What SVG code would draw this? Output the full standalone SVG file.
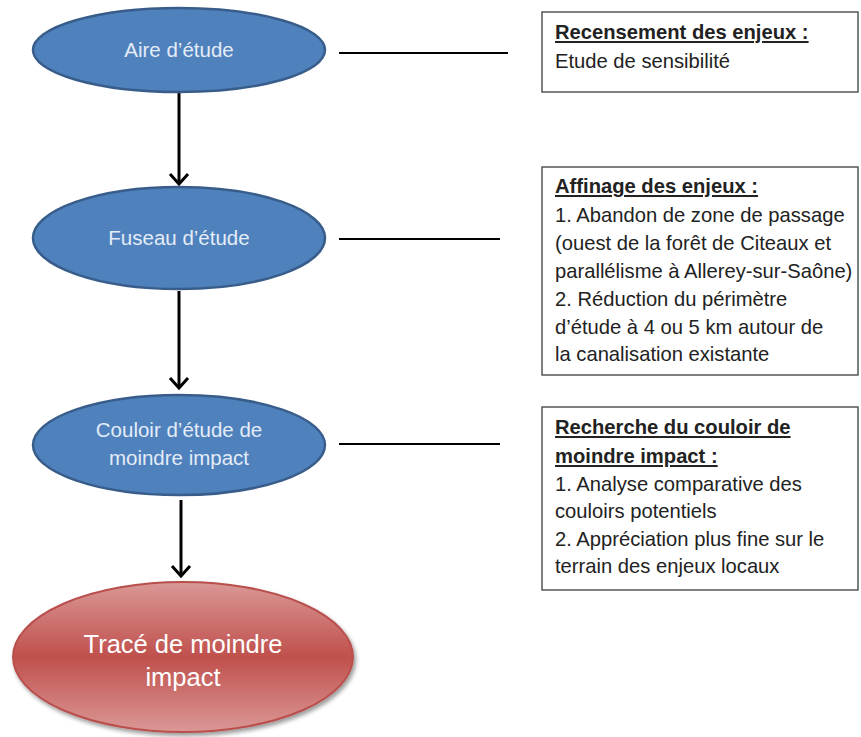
<svg xmlns="http://www.w3.org/2000/svg" width="861" height="737" viewBox="0 0 861 737">
<style>
.blue{fill:#4F81BD;stroke:#385D8A;stroke-width:2.5}
.etxt{font-family:"Liberation Sans",Arial,sans-serif;font-size:20.5px;fill:#E4ECF7;text-anchor:middle}
.rtxt{font-family:"Liberation Sans",Arial,sans-serif;font-size:25.5px;fill:#FFFFFF;text-anchor:middle}
.box{fill:#FFFFFF;stroke:#555555;stroke-width:1.5}
.btxt{font-family:"Liberation Sans",Arial,sans-serif;font-size:20.2px;fill:#222222}
.bt{font-weight:bold;text-decoration:underline}
.link{stroke:#000;stroke-width:2;fill:none}
.arrow{stroke:#000;stroke-width:3;fill:none}
</style>
<defs>
<marker id="ah" markerWidth="8" markerHeight="8" refX="6" refY="4" orient="auto" markerUnits="userSpaceOnUse" viewBox="0 0 8 8" overflow="visible">
<path d="M-4,-5 L6,4 L-4,13" fill="none" stroke="#000" stroke-width="3"/>
</marker>
<linearGradient id="rg" x1="0" y1="0" x2="0" y2="1">
<stop offset="0" stop-color="#DA9896"/>
<stop offset="0.5" stop-color="#C0504D"/>
<stop offset="1" stop-color="#DA9896"/>
</linearGradient>
<filter id="sh" x="-10%" y="-10%" width="120%" height="130%">
<feGaussianBlur in="SourceAlpha" stdDeviation="2"/>
<feOffset dx="2" dy="3" result="o"/>
<feComponentTransfer><feFuncA type="linear" slope="0.4"/></feComponentTransfer>
<feMerge><feMergeNode/><feMergeNode in="SourceGraphic"/></feMerge>
</filter>
</defs>
<rect width="861" height="737" fill="#FFFFFF"/>
<g id="connectors">
<line class="arrow" x1="179" y1="93" x2="179" y2="184" marker-end="url(#ah)"/>
<line class="arrow" x1="179" y1="291" x2="179" y2="388" marker-end="url(#ah)"/>
<line class="arrow" x1="181" y1="500" x2="181" y2="576" marker-end="url(#ah)"/>
<line class="link" x1="339" y1="53" x2="508" y2="53"/>
<line class="link" x1="339" y1="239" x2="500" y2="239"/>
<line class="link" x1="339" y1="444" x2="500" y2="444"/>
</g>
<g id="aire">
<ellipse class="blue" cx="179" cy="50" rx="146" ry="42"/>
<text class="etxt" x="179" y="57">Aire d’étude</text>
</g>
<g id="fuseau">
<ellipse class="blue" cx="179" cy="238" rx="146" ry="51"/>
<text class="etxt" x="179" y="245">Fuseau d’étude</text>
</g>
<g id="couloir">
<ellipse class="blue" cx="179" cy="445" rx="146" ry="50"/>
<text class="etxt" x="179" y="437">Couloir d’étude de</text>
<text class="etxt" x="179" y="465">moindre impact</text>
</g>
<g id="trace">
<ellipse cx="183" cy="657" rx="170" ry="75" fill="url(#rg)" stroke="#B9504D" stroke-width="2" filter="url(#sh)"/>
<text class="rtxt" x="183" y="653">Tracé de moindre</text>
<text class="rtxt" x="183" y="686">impact</text>
</g>
<g id="box1">
<rect class="box" x="542" y="12" width="316" height="80"/>
<text class="btxt bt" x="555" y="39">Recensement des enjeux :</text>
<text class="btxt" x="555" y="68">Etude de sensibilité</text>
</g>
<g id="box2">
<rect class="box" x="542" y="167" width="316" height="208"/>
<text class="btxt bt" x="555" y="193">Affinage des enjeux :</text>
<text class="btxt" x="555" y="222">1. Abandon de zone de passage</text>
<text class="btxt" x="555" y="250">(ouest de la forêt de Citeaux et</text>
<text class="btxt" x="555" y="278">parallélisme à Allerey-sur-Saône)</text>
<text class="btxt" x="555" y="306">2. Réduction du périmètre</text>
<text class="btxt" x="555" y="334">d’étude à 4 ou 5 km autour de</text>
<text class="btxt" x="555" y="361">la canalisation existante</text>
</g>
<g id="box3">
<rect class="box" x="542" y="407" width="316" height="183"/>
<text class="btxt bt" x="555" y="434">Recherche du couloir de</text>
<text class="btxt bt" x="555" y="463">moindre impact :</text>
<text class="btxt" x="555" y="491">1. Analyse comparative des</text>
<text class="btxt" x="555" y="518">couloirs potentiels</text>
<text class="btxt" x="555" y="546">2. Appréciation plus fine sur le</text>
<text class="btxt" x="555" y="573">terrain des enjeux locaux</text>
</g>
</svg>
